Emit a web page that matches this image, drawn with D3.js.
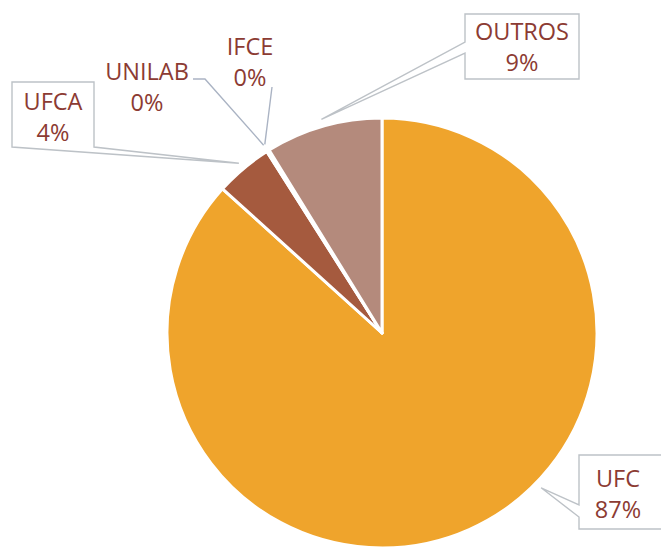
<!DOCTYPE html>
<html>
<head>
<meta charset="utf-8">
<script src="https://d3js.org/d3.v7.min.js"></script>
<style>
  html, body { margin: 0; padding: 0; background: #fff; }
  svg { display: block; }
</style>
</head>
<body>
<div id="chart"></div>
<script>
// Instituições (share of total)
const categories = ['UFC', 'UFCA', 'UNILAB', 'IFCE', 'OUTROS'];
const shares = [0.867, 0.043, 0.001, 0.001, 0.088];
const colors = ['#EFA42C', '#A55A3E', '#A55A3E', '#B48A7C', '#B48A7C'];

const width = 661, height = 547;
const cx = 382, cy = 333, radius = 215;

const svg = d3.select('#chart').append('svg')
  .attr('width', width)
  .attr('height', height);

const pie = d3.pie().sort(null).value(d => d.value);
const arcs = pie(categories.map((c, i) => ({ name: c, value: shares[i], color: colors[i] })));

const arc = d3.arc().innerRadius(0).outerRadius(radius);

const pieG = svg.append('g').attr('transform', `translate(${cx},${cy})`);
pieG.selectAll('path')
  .data(arcs).enter().append('path')
  .attr('d', arc)
  .attr('fill', d => d.data.color)
  .attr('stroke', '#fff')
  .attr('stroke-width', 3)
  .attr('stroke-linejoin', 'round');

// callout tip: point just outside the slice edge
const tipFrac = { UFC: 0.43 };
function tip(d) {
  const f = tipFrac[d.data.name] ?? 0.5;
  const a = d.startAngle + (d.endAngle - d.startAngle) * f;
  const r = radius + 7;
  return [cx + r * Math.sin(a), cy - r * Math.cos(a)];
}
const byName = {};
arcs.forEach(d => { byName[d.data.name] = d; });

const fmt = d3.format('.0%');
const lineCol = '#AAB3C3', boxCol = '#BDC2C7', textCol = '#8C3B33';

// callout shapes (box + wedge pointing at the slice)
const callouts = {
  UFCA:   { box: [12, 82, 94, 147], side: 'bottom', tx: 53, ty: 110 },
  OUTROS: { box: [465, 14, 579, 79], side: 'left', w: [42, 53], tx: 522, ty: 40 },
  UFC:    { box: [579, 455, 690, 529], side: 'left', w: [505, 517], tx: 618, ty: 487 },
  UNILAB: { leader: [[193, 79], [205, 79]], tx: 147, ty: 80 },
  IFCE:   { leader: [[272, 87]], tx: 250, ty: 55 }
};

const labG = svg.append('g');
categories.forEach(name => {
  const c = callouts[name];
  const t = tip(byName[name]);
  if (c.box) {
    const [x0, y0, x1, y1] = c.box;
    const p = d3.path();
    if (c.side === 'bottom') {
      p.moveTo(x0, y1); p.lineTo(x0, y0); p.lineTo(x1, y0); p.lineTo(x1, y1);
      p.lineTo(t[0], t[1]); p.closePath();
    } else {
      p.moveTo(x0, y0); p.lineTo(x1, y0); p.lineTo(x1, y1); p.lineTo(x0, y1);
      p.lineTo(x0, c.w[1]); p.lineTo(t[0], t[1]); p.lineTo(x0, c.w[0]); p.closePath();
    }
    labG.append('path')
      .attr('d', p.toString())
      .attr('fill', '#fff')
      .attr('stroke', boxCol)
      .attr('stroke-width', 1.4);
  } else {
    labG.append('polyline')
      .attr('points', c.leader.concat([t]).map(q => q.join(',')).join(' '))
      .attr('fill', 'none')
      .attr('stroke', lineCol)
      .attr('stroke-width', 1.4);
  }
  const txt = labG.append('text')
    .attr('text-anchor', 'middle')
    .attr('fill', textCol)
    .attr('font-family', '"Open Sans", sans-serif')
    .attr('font-size', 23.5);
  txt.append('tspan').attr('x', c.tx).attr('y', c.ty).text(name);
  txt.append('tspan').attr('x', c.tx).attr('y', c.ty + 31).text(fmt(byName[name].data.value));
});
</script>
</body>
</html>
